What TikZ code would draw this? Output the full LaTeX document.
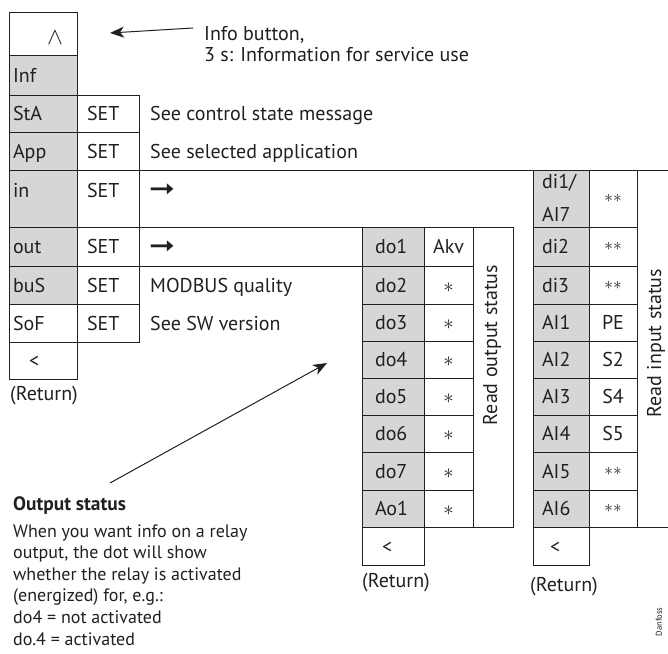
\documentclass[tikz,border=0pt]{standalone}
\usepackage{fontspec}
\usepackage{graphicx}
\setmainfont{PT Sans}
\newfontfamily\dejavu{DejaVu Sans}
\usetikzlibrary{arrows.meta}
\definecolor{cellgray}{RGB}{214,214,214}
\definecolor{ink}{RGB}{35,31,32}
\newcommand{\onest}{{\fontsize{21}{21}\selectfont$\ast$}}
\newcommand{\twost}{{\fontsize{16}{16}\selectfont\raisebox{3pt}{$\ast\ast$}}}
\newcommand{\rarr}{\scalebox{1.55}[1.3]{\dejavu ➞}}
\begin{document}
\begin{tikzpicture}[x=1pt,y=-1pt,
  font=\fontsize{20}{24}\selectfont,
  box/.style={draw=ink, line width=0.75pt, anchor=north west, inner ysep=0pt,
    outer sep=0pt, text height=14pt, text depth=0pt, text=ink},
  shade/.style={fill=cellgray},
  c1/.style={box, minimum width=68pt, text width=60pt, inner xsep=4pt, align=left},
  c2/.style={box, minimum width=62pt, text width=42pt, inner xsep=10pt, align=left},
  cdo/.style={box, minimum width=62pt, text width=36pt, inner xsep=13pt, align=left},
  cdv/.style={box, minimum width=49pt, text width=41pt, inner xsep=4pt, align=center},
  cdi/.style={box, minimum width=56pt, text width=38pt, inner xsep=9pt, align=left},
  civ/.style={box, minimum width=48pt, text width=40pt, inner xsep=4pt, align=center},
  tall/.style={text depth=17pt},
  plain/.style={anchor=base west, inner sep=0pt, text=ink},
  note/.style={plain, font=\fontsize{18}{21.6}\selectfont},
  conn/.style={draw=ink, line width=0.75pt},
  pointer/.style={draw=ink, line width=1pt, -{Stealth[length=14pt,width=11pt,inset=4pt]}}
]
\useasboundingbox (0,0) rectangle (668,653);

% ---------- left menu column ----------
\node[c1, minimum height=43pt] (up) at (9,12) {};
\node[anchor=center, inner sep=0pt, text=ink] (caret) at (55,37.5) {\scalebox{1.15}{$\wedge$}};
\node[c1, shade, minimum height=40pt] (inf) at (9,55) {Inf};
\node[c1, shade, minimum height=37pt] (sta) at (9,95) {StA};
\node[c1, shade, minimum height=38pt] (app) at (9,132) {App};
\node[c1, shade, tall, minimum height=57pt] (in) at (9,170) {in};
\node[c1, shade, minimum height=39pt] (out) at (9,227) {out};
\node[c1, shade, minimum height=38pt] (bus) at (9,266) {buS};
\node[c1, minimum height=38pt] (sof) at (9,304) {SoF};
\node[c1, minimum height=37pt] (ret1) at (9,342) {\hspace*{16pt}<};
\node[plain] (rt1) at (10,400) {(Return)};

% ---------- SET column ----------
\node[c2, minimum height=37pt] (sta2) at (77,95) {SET};
\node[c2, minimum height=38pt] (app2) at (77,132) {SET};
\node[c2, tall, minimum height=57pt] (in2) at (77,170) {SET};
\node[c2, minimum height=39pt] (out2) at (77,227) {SET};
\node[c2, minimum height=38pt] (bus2) at (77,266) {SET};
\node[c2, minimum height=38pt] (sof2) at (77,304) {SET};

% ---------- descriptions ----------
\node[plain] (dsta) at (150,120.5) {See control state message};
\node[plain] (dapp) at (150,158) {See selected application};
\node[anchor=west, inner sep=0pt, text=ink] (din) at (149,191) {\rarr};
\node[anchor=west, inner sep=0pt, text=ink] (dout) at (149,248) {\rarr};
\node[plain] (dbus) at (150,292) {MODBUS quality};
\node[plain] (dsof) at (150,330) {See SW version};

% ---------- info button ----------
\node[plain] (info1) at (204,40.7) {Info button,};
\node[plain] (info2) at (204,61) {3 s: Information for service use};
\coordinate (infA) at (193,28);
\coordinate (infB) at (110,33);
\draw[pointer] (infA) -- (infB);

% ---------- output status column ----------
\foreach \t/\b/\n/\v [count=\i] in {227/266/do1/Akv, 266/304/do2/\onest, 304/341.5/do3/\onest,
  341.5/378/do4/\onest, 378/415/do5/\onest, 415/452/do6/\onest, 452/490/do7/\onest, 490/527/Ao1/\onest}
{
  \pgfmathsetmacro\h{\b-\t}
  \node[cdo, shade, minimum height=\h pt] (do\i) at (362,\t) {\n};
  \node[cdv, minimum height=\h pt] (dv\i) at (424,\t) {\v};
}
\node[box, minimum width=40pt, minimum height=300pt] (ros) at (473,227) {};
\node[rotate=90, inner sep=0pt, text=ink] (rostxt) at (492,345) {Read output status};
\node[cdo, minimum height=38pt] (ret2) at (362,527) {\hspace*{7pt}<};
\node[plain] (rt2) at (362,587) {(Return)};

% ---------- input status column ----------
\node[cdi, shade, minimum height=57pt] (di1) at (533,170) {};
\node[plain] (di1a) at (542,188) {di1/};
\node[plain] (di1b) at (542,221) {AI7};
\node[civ, minimum height=57pt] (iv1) at (589,170) {\twost};
\foreach \t/\b/\n/\v [count=\i from 2] in {227/266/di2/\twost, 266/304/di3/\twost, 304/341.5/AI1/PE,
  341.5/378/AI2/S2, 378/415/AI3/S4, 415/452/AI4/S5, 452/490/AI5/\twost, 490/527/AI6/\twost}
{
  \pgfmathsetmacro\h{\b-\t}
  \node[cdi, shade, minimum height=\h pt] (di\i) at (533,\t) {\n};
  \node[civ, minimum height=\h pt] (iv\i) at (589,\t) {\v};
}
\node[rotate=90, inner sep=0pt, text=ink] (ristxt) at (656,343) {Read input status};
\node[cdi, minimum height=38pt] (ret3) at (533,527) {\hspace*{8pt}<};
\node[plain] (rt3) at (530,591) {(Return)};

% ---------- connecting lines ----------
\coordinate (redge) at (668,170);
\coordinate (rbot) at (668,527);
\draw[conn] (app2.south east) -- (redge);
\draw[conn] (in2.south east) -- (do1.north west);
\draw[conn] (out2.south east) -- (do1.south west);
\draw[conn] (iv1.north east) -- (iv9.south east) -- (rbot);

% ---------- output status note ----------
\node[plain, font=\fontsize{19.4}{21.6}\selectfont\bfseries] (oshead) at (13,510) {Output status};
\foreach \s [count=\i from 0] in {When you want info on a relay, {output, the dot will show},
  whether the relay is activated, {(energized) for, e.g.:}, do4 = not activated, do.4 = activated}
{
  \node[note] (osl\i) at (13,{537+21.6*\i}) {\s};
}
\coordinate (osA) at (110,483);
\coordinate (osB) at (327,363);
\draw[pointer] (osA) -- (osB);

% ---------- code mark ----------
\node[rotate=90, inner sep=0pt, text=ink, font=\fontsize{8.5}{8.5}\selectfont] (danf) at (659,622) {Danfoss};
\end{tikzpicture}
\end{document}
